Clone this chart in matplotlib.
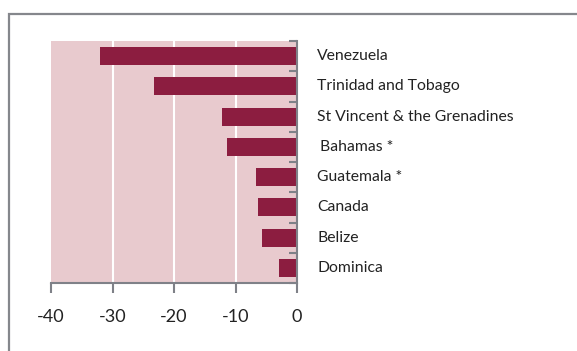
import numpy as np
import matplotlib
matplotlib.use("Agg")
import matplotlib.pyplot as plt
from matplotlib.patches import Rectangle

countries = ["Venezuela", "Trinidad and Tobago", "St Vincent & the Grenadines",
             "Bahamas *", "Guatemala *", "Canada", "Belize", "Dominica"]
values = [-32.0, -23.3, -12.2, -11.4, -6.7, -6.4, -5.7, -2.9]
xticks = [-40, -30, -20, -10, 0]

BAR = "#8c1d40"
BG = "#e8cace"
GREY = "#7f8188"

plt.rcParams["font.family"] = ["Lato", "DejaVu Sans"]

fig = plt.figure(figsize=(5.77, 3.51), dpi=100)
ax = fig.add_axes([51 / 577, 1 - 283 / 351, 246 / 577, 242 / 351])

# outer frame (right and bottom edges run off the image)
fig.patches.append(Rectangle((8.5 / 577, -0.05), 1.2, 1 - 13.5 / 351 + 0.05,
                             transform=fig.transFigure, fill=False,
                             edgecolor="#85878c", linewidth=1.6))

y = np.arange(len(countries))
ax.set_facecolor(BG)
for gx in xticks[1:-1]:
    ax.axvline(gx, color="white", lw=1.5, zorder=1)
ax.barh(y, values, height=0.6, color=BAR, zorder=2)

ax.set_xlim(-40, 0)
ax.set_ylim(len(countries) - 0.5, -0.5)

for s in ["top", "left"]:
    ax.spines[s].set_visible(False)
ax.spines["right"].set_color(GREY)
ax.spines["right"].set_linewidth(1.5)
ax.spines["bottom"].set_color(GREY)
ax.spines["bottom"].set_linewidth(1.5)

ax.set_xticks(xticks)
ax.set_xticklabels([str(v) for v in xticks], fontsize=13, color="#222222")
ax.tick_params(axis="x", length=7, width=1.5, color=GREY, pad=12)

ax.yaxis.tick_right()
ax.set_yticks(y)
ax.set_yticklabels([])
ax.set_yticks(np.arange(len(countries) + 1) - 0.5, minor=True)
ax.tick_params(axis="y", which="major", direction="in", length=4, width=1.5, color=GREY)
ax.tick_params(axis="y", which="minor", direction="in", length=6, width=1.5, color=GREY)

for i, name in enumerate(countries):
    dx = 16.5 if name.startswith("Bahamas") else 14.5
    ax.annotate(name, xy=(0, i), xycoords="data", xytext=(dx, 0),
                textcoords="offset points", ha="left", va="center",
                fontsize=11.3, color="#222222", annotation_clip=False)

fig.savefig("out.png", dpi=100)
